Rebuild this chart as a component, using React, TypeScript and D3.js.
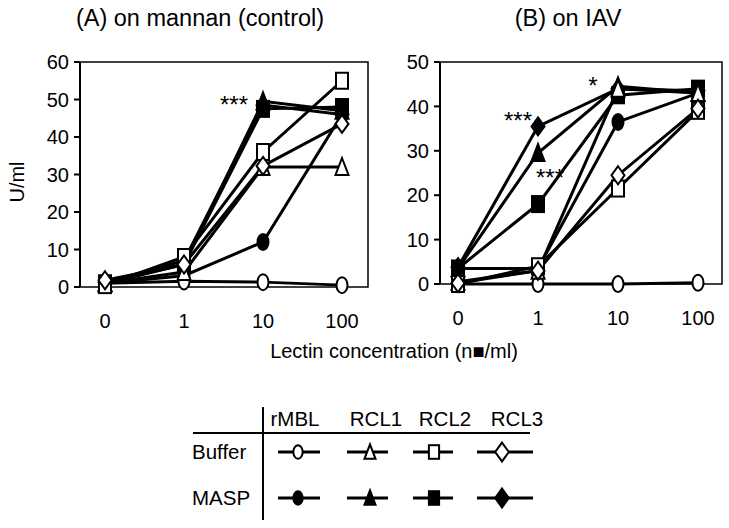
import React from "react";
import * as d3 from "d3";

const concentrations = ["0", "1", "10", "100"];
const lectins = ["rMBL", "RCL1", "RCL2", "RCL3"];
const conditions = ["Buffer", "MASP"];
const shapes = ["circle", "triangle", "square", "diamond"];

// Panel A: on mannan (control)
const A_bufferRMBL = [1, 1.5, 1.3, 0.5];
const A_bufferRCL1 = [1, 4, 32, 32];
const A_bufferRCL2 = [0.5, 8, 36, 55];
const A_bufferRCL3 = [1.8, 6, 32.3, 43.5];
const A_maspRMBL = [1, 3, 12, 46];
const A_maspRCL1 = [1, 6, 49.5, 47];
const A_maspRCL2 = [1, 6, 47.5, 48];
const A_maspRCL3 = [1.2, 7, 48.5, 46];
const A_ticks = [0, 10, 20, 30, 40, 50, 60];

// Panel B: on IAV
const B_bufferRMBL = [0, 0, 0, 0.3];
const B_bufferRCL1 = [0.5, 3, 44, 43];
const B_bufferRCL2 = [0, 4, 21.5, 39];
const B_bufferRCL3 = [0.2, 3, 24.5, 39.5];
const B_maspRMBL = [3.5, 3.5, 36.5, 43];
const B_maspRCL1 = [3.5, 29.5, 44.5, 43];
const B_maspRCL2 = [3.5, 18, 42.5, 44];
const B_maspRCL3 = [3.8, 35.5, 44, 43.5];
const B_ticks = [0, 10, 20, 30, 40, 50];

const FONT = "'Liberation Sans', Arial, Helvetica, sans-serif";

type Series = { shape: string; filled: boolean; values: number[] };

const seriesA: Series[] = [
  { shape: "circle", filled: true, values: A_maspRMBL },
  { shape: "triangle", filled: true, values: A_maspRCL1 },
  { shape: "square", filled: true, values: A_maspRCL2 },
  { shape: "diamond", filled: true, values: A_maspRCL3 },
  { shape: "circle", filled: false, values: A_bufferRMBL },
  { shape: "triangle", filled: false, values: A_bufferRCL1 },
  { shape: "square", filled: false, values: A_bufferRCL2 },
  { shape: "diamond", filled: false, values: A_bufferRCL3 },
];
const seriesB: Series[] = [
  { shape: "circle", filled: true, values: B_maspRMBL },
  { shape: "triangle", filled: true, values: B_maspRCL1 },
  { shape: "square", filled: true, values: B_maspRCL2 },
  { shape: "diamond", filled: true, values: B_maspRCL3 },
  { shape: "circle", filled: false, values: B_bufferRMBL },
  { shape: "triangle", filled: false, values: B_bufferRCL1 },
  { shape: "square", filled: false, values: B_bufferRCL2 },
  { shape: "diamond", filled: false, values: B_bufferRCL3 },
];

function Marker({ shape, filled, x, y, s = 1 }: { shape: string; filled: boolean; x: number; y: number; s?: number }) {
  const fill = filled ? "#000" : "#fff";
  const common = { fill, stroke: "#000", strokeWidth: 2 };
  if (shape === "circle") return <ellipse cx={x} cy={y} rx={5.5 * s} ry={8 * s} {...common} />;
  if (shape === "square") return <rect x={x - 6 * s} y={y - 8 * s} width={12 * s} height={16 * s} {...common} />;
  if (shape === "triangle") {
    const p = `${x},${y - 9 * s} ${x + 6.5 * s},${y + 8 * s} ${x - 6.5 * s},${y + 8 * s}`;
    return <polygon points={p} {...common} />;
  }
  const p = `${x},${y - 9 * s} ${x + 6.5 * s},${y} ${x},${y + 9 * s} ${x - 6.5 * s},${y}`;
  return <polygon points={p} {...common} />;
}

function Panel({
  series, ticks, yMax, left, right, top, bottom, xl, xr, title, titleX, stars,
}: {
  series: Series[]; ticks: number[]; yMax: number; left: number; right: number; top: number; bottom: number;
  xl: number; xr: number; title: string; titleX: number; stars: { t: string; x: number; y: number }[];
}) {
  const x = d3.scalePoint<string>().domain(concentrations).range([xl, xr]);
  const y = d3.scaleLinear().domain([0, yMax]).range([bottom, top]);
  const line = d3.line<number>().x((_, i) => x(concentrations[i])!).y((d) => y(d));
  return (
    <g>
      <text x={titleX} y={26} textAnchor="middle" fontSize={23.5} fontFamily={FONT}>{title}</text>
      <rect x={left} y={top} width={right - left} height={bottom - top} fill="none" stroke="#000" strokeWidth={1.5} />
      <line x1={left} x2={left} y1={top} y2={bottom} stroke="#000" strokeWidth={2} />
      {ticks.map((t) => (
        <g key={t}>
          <line x1={left - 6} x2={left} y1={y(t)} y2={y(t)} stroke="#000" strokeWidth={2} />
          <text x={left - 11} y={y(t)} dy="0.36em" textAnchor="end" fontSize={20} fontFamily={FONT}>{t}</text>
        </g>
      ))}
      {concentrations.map((c) => (
        <text key={c} x={x(c)} y={bottom + 41} textAnchor="middle" fontSize={20} fontFamily={FONT}>{c}</text>
      ))}
      {series.map((s, i) => (
        <path key={i} d={line(s.values)!} fill="none" stroke="#000" strokeWidth={3} />
      ))}
      {series.map((s, i) =>
        s.values.map((v, j) => (
          <Marker key={`${i}-${j}`} shape={s.shape} filled={s.filled} x={x(concentrations[j])!} y={y(v)} />
        ))
      )}
      {stars.map((st, i) => (
        <text key={i} x={st.x} y={st.y} textAnchor="middle" fontSize={24} fontFamily={FONT}>{st.t}</text>
      ))}
    </g>
  );
}

function Legend() {
  const colX = [298, 370, 434, 502];
  const headX = [295, 376, 445, 517];
  const lineL = [278, 347, 413, 477];
  const lineR = [320, 388, 453, 533];
  const rowY = [452, 498];
  return (
    <g fontFamily={FONT} fontSize={20.5}>
      <line x1={263} x2={263} y1={407} y2={520} stroke="#000" strokeWidth={2} />
      <line x1={193} x2={530} y1={433} y2={433} stroke="#000" strokeWidth={2} />
      {lectins.map((l, i) => (
        <text key={l} x={headX[i]} y={426} textAnchor="middle">{l}</text>
      ))}
      {conditions.map((c, r) => (
        <g key={c}>
          <text x={192} y={rowY[r]} dy="0.36em">{c}</text>
          {shapes.map((sh, i) => (
            <g key={sh}>
              <line x1={lineL[i]} x2={lineR[i]} y1={rowY[r]} y2={rowY[r]} stroke="#000" strokeWidth={3} />
              <Marker shape={sh} filled={r === 1} x={colX[i]} y={rowY[r]} s={sh === "diamond" ? 1.05 : 0.85} />
            </g>
          ))}
        </g>
      ))}
    </g>
  );
}

export default function App() {
  return (
    <svg width={729} height={528} style={{ position: "absolute", left: 0, top: 0, background: "#fff" }}>
      <rect width={729} height={528} fill="#fff" />
      <Panel
        series={seriesA} ticks={A_ticks} yMax={60} left={80} right={368} top={62} bottom={287}
        xl={105} xr={342} title="(A) on mannan (control)" titleX={200}
        stars={[{ t: "***", x: 234, y: 113 }]}
      />
      <Panel
        series={seriesB} ticks={B_ticks} yMax={50} left={440} right={722} top={62} bottom={284}
        xl={458} xr={698} title="(B) on IAV" titleX={568}
        stars={[
          { t: "***", x: 518, y: 129 },
          { t: "***", x: 550, y: 186 },
          { t: "*", x: 593, y: 94 },
        ]}
      />
      <text x={17} y={182} transform="rotate(-90 17 182)" textAnchor="middle" dy="0.36em" fontSize={20} fontFamily={FONT}>U/ml</text>
      <text x={394} y={358} textAnchor="middle" fontSize={20} fontFamily={FONT}>Lectin concentration (n■/ml)</text>
      <Legend />
    </svg>
  );
}
